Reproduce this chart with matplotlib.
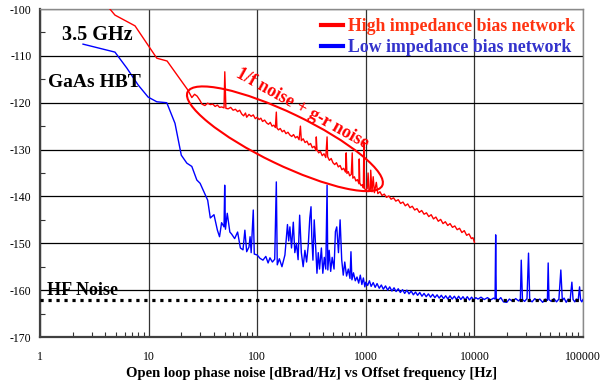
import matplotlib
matplotlib.use("Agg")
import matplotlib.pyplot as plt
import matplotlib.transforms as mtransforms
from matplotlib.patches import Ellipse
from matplotlib.lines import Line2D
from matplotlib.ticker import FixedLocator, NullFormatter

plt.rcParams["font.family"] = ["Liberation Serif", "DejaVu Serif"]
plt.rcParams["axes.unicode_minus"] = False

# high impedance bias network (red)
red_f = [4.4, 4.9, 7.5, 11.9, 14.8, 23, 25, 26.5, 28, 29.7, 31, 33, 35, 37, 39, 41, 43, 45, 47,
         49.5, 50.3, 51.5, 54, 57, 60, 63, 66, 69, 72, 75, 78, 80, 84, 88, 92, 96, 100, 104, 108,
         112, 117, 122, 127, 132, 137, 142, 147, 150, 152, 157, 163, 170, 177, 184, 192, 200, 208,
         216, 225, 234, 243, 250, 255, 265, 276, 287, 298, 310, 322, 335, 348, 350, 355, 368, 382,
         397, 412, 428, 440, 445, 462, 480, 498, 517, 537, 558, 580, 602, 625, 650, 660, 670, 690,
         710, 735, 750, 760, 785, 810, 837, 865, 870, 880, 905, 930, 950, 960, 975, 1000, 1030,
         1050, 1070, 1100, 1110, 1140, 1170, 1200, 1250, 1290, 1350, 1410, 1480, 1550, 1630, 1710,
         1800, 1890, 1990, 2090, 2200, 2310, 2430, 2550, 2680, 2820, 2960, 3110, 3270, 3440, 3620,
         3800, 4000, 4200, 4420, 4650, 4890, 5140, 5400, 5680, 5970, 6280, 6600, 6940, 7300, 7670,
         8070, 8480, 8920, 9380, 9700, 10000]
red_db = [-100.0, -101.3, -103.6, -110.5, -111.1, -117.3, -118.9, -118.2, -118.6, -119.5, -120.3,
          -120.6, -120.1, -120.4, -120.3, -120.8, -120.5, -121.0, -120.9, -121.1, -113.4, -121.2,
          -121.3, -121.0, -121.6, -121.4, -121.9, -121.6, -122.4, -122.8, -122.2, -123.1, -122.5,
          -122.9, -122.6, -123.4, -123.1, -123.6, -123.3, -124.0, -123.7, -124.3, -124.6, -124.2,
          -125.0, -124.8, -125.3, -122.0, -125.4, -125.8, -125.5, -126.2, -125.9, -126.6, -126.3,
          -126.9, -127.2, -126.8, -127.5, -127.2, -127.9, -125.0, -128.1, -127.7, -128.5, -128.2,
          -129.0, -128.7, -129.6, -129.3, -130.2, -127.3, -130.0, -130.7, -130.4, -131.3, -130.9,
          -131.7, -127.3, -131.5, -132.3, -131.9, -132.8, -133.2, -132.8, -133.7, -133.4, -134.3,
          -134.0, -134.8, -130.7, -135.1, -134.7, -135.6, -135.3, -130.7, -136.1, -135.8, -136.7,
          -136.4, -137.3, -132.0, -137.1, -137.7, -137.5, -138.2, -128.4, -138.3, -138.7, -138.3,
          -135.0, -138.9, -138.5, -134.4, -139.0, -135.8, -139.2, -137.0, -139.4, -139.0, -139.8,
          -139.5, -140.2, -139.9, -140.6, -140.3, -141.0, -140.7, -141.5, -141.2, -142.0, -141.6,
          -142.4, -142.1, -142.9, -142.6, -143.4, -143.0, -143.8, -143.5, -144.3, -143.9, -144.8,
          -144.4, -145.3, -144.9, -145.8, -145.4, -146.2, -145.8, -146.6, -146.3, -147.1, -146.8,
          -147.7, -147.3, -148.3, -148.0, -149.0, -148.8, -149.8]

# low impedance bias network (blue)
blue_f = [2.49, 4.9, 6.3, 8, 9.9, 11.9, 14.7, 17.5, 20, 22.5, 25, 27.8, 29.8, 35, 37, 40, 43, 45,
          47, 49.5, 50.2, 51, 53, 56, 58, 62, 66, 70, 74, 77, 80, 84, 86, 88, 92, 94, 100, 106, 113,
          120, 126, 131, 138, 145, 150, 153, 160, 169, 180, 190, 195, 200, 207, 215, 222, 230, 238,
          246, 255, 265, 275, 285, 295, 305, 313, 318, 326, 335, 345, 355, 365, 375, 390, 402, 415,
          428, 440, 447, 460, 475, 490, 510, 525, 540, 560, 580, 600, 620, 640, 665, 690, 715, 730,
          745, 770, 800, 830, 860, 890, 920, 950, 980, 1000, 1040, 1080, 1120, 1170, 1220, 1270,
          1330, 1390, 1450, 1520, 1590, 1660, 1740, 1820, 1900, 1990, 2080, 2180, 2280, 2390, 2500,
          2620, 2740, 2870, 3000, 3140, 3290, 3440, 3600, 3770, 3950, 4130, 4330, 4530, 4740, 4960,
          5200, 5440, 5700, 5960, 6240, 6540, 6840, 7160, 7500, 7850, 8220, 8600, 9000, 9420, 9870,
          10300, 10800, 11500, 12300, 13200, 14100, 15000, 15500, 15700, 15900, 16500, 17500,
          18500, 19900, 21000, 22500, 24000, 25500, 26500, 27000, 27700, 29000, 30500, 31500,
          32300, 34000, 36000, 38000, 40000, 42500, 45000, 47000, 47800, 48600, 51000, 54000,
          57000, 60000, 62500, 64500, 67000, 70000, 73000, 76000, 79000, 81000, 84000, 87000,
          90000, 93000, 95000, 97500, 100000]
blue_db = [-107.5, -109.2, -112.6, -116.2, -118.8, -119.8, -120.0, -124.4, -131.2, -132.9, -133.6,
           -136.5, -137.2, -140.8, -144.6, -143.9, -147.2, -148.6, -145.6, -146.5, -137.6, -147.0,
           -143.6, -147.6, -148.0, -149.0, -147.6, -151.0, -151.4, -147.2, -151.8, -150.8, -148.6,
           -152.0, -142.9, -152.3, -152.5, -153.2, -153.6, -152.8, -154.2, -153.1, -154.0, -153.4,
           -136.9, -154.6, -153.3, -155.0, -152.5, -146.0, -149.5, -146.5, -151.0, -145.5, -152.0,
           -150.0, -153.5, -144.0, -152.0, -155.0, -151.5, -154.0, -150.5, -144.6, -142.2, -148.5,
           -153.6, -145.0, -150.5, -156.4, -152.0, -155.5, -151.0, -156.4, -153.0, -155.5, -137.6,
           -155.7, -151.5, -156.0, -153.0, -155.5, -147.5, -146.5, -152.0, -145.0, -153.5, -156.8,
           -154.0, -157.0, -155.5, -157.5, -151.8, -157.8, -156.3, -158.0, -157.2, -158.5, -156.8,
           -158.8, -157.4, -159.3, -158.3, -159.0, -158.0, -159.2, -158.4, -159.4, -158.6, -159.6,
           -158.9, -159.8, -159.1, -160.0, -159.3, -160.2, -159.5, -160.3, -159.7, -160.5, -159.9,
           -160.7, -160.0, -160.8, -160.2, -161.0, -160.4, -161.1, -160.5, -161.3, -160.7, -161.4,
           -160.8, -161.5, -160.9, -161.6, -161.0, -161.7, -161.1, -161.8, -161.2, -161.9, -161.2,
           -161.9, -161.3, -162.0, -161.3, -162.0, -161.4, -162.1, -161.4, -162.1, -161.5, -162.1,
           -161.6, -161.9, -161.5, -162.0, -161.6, -162.1, -161.7, -161.9, -148.2, -161.8, -162.2,
           -161.6, -162.5, -162.6, -161.9, -162.4, -161.8, -162.3, -161.9, -153.6, -162.0, -162.4,
           -161.8, -152.1, -162.1, -162.5, -161.8, -162.3, -161.9, -162.6, -161.9, -162.2, -154.2,
           -162.0, -162.4, -161.8, -162.5, -161.9, -155.7, -162.2, -161.7, -162.6, -161.9, -162.3,
           -158.3, -162.0, -162.5, -161.9, -162.4, -159.3, -162.1, -162.5, -162.0]

hf_f = [1, 100000]
hf_db = [-162.2, -162.2]

x_ticks = [1, 10, 100, 1000, 10000, 100000]
x_labels = ["1", "10", "100", "1000", "10000", "100000"]
y_ticks = [-170, -160, -150, -140, -130, -120, -110, -100]

fig = plt.figure(figsize=(6.02, 3.84), dpi=100)
ax = fig.add_axes([40 / 602, 47 / 384, 543 / 602, 328 / 384])

ax.set_xscale("log")
ax.set_xlim(1, 100000)
ax.set_ylim(-170, -100)

ax.plot(red_f, red_db, color="#ff0000", lw=1.0, zorder=3)
ax.plot(blue_f, blue_db, color="#0000ff", lw=1.0, zorder=3)
ax.plot(hf_f, hf_db, color="black", lw=2.3, dashes=(1, 1.5), dash_capstyle="butt", zorder=4)

# ticks / grid
ax.xaxis.set_major_locator(FixedLocator(x_ticks))
ax.set_xticklabels(x_labels)
minors = [m * 10 ** d for d in range(5) for m in range(2, 10)]
ax.xaxis.set_minor_locator(FixedLocator(minors))
ax.xaxis.set_minor_formatter(NullFormatter())
ax.set_yticks(y_ticks)
ax.set_yticklabels([str(v) for v in y_ticks])
ax.yaxis.set_minor_locator(FixedLocator([-165, -155, -145, -135, -125, -115, -105]))
ax.tick_params(axis="both", which="major", length=0, labelsize=8.5)
ax.tick_params(axis="x", which="major", pad=10)
ax.tick_params(axis="y", which="major", pad=6)
ax.tick_params(axis="both", which="minor", direction="in", length=3.5, width=0.8, color="#333333")
ax.grid(True, which="major", axis="y", color="black", lw=0.9)
ax.grid(True, which="major", axis="x", color="#333333", lw=0.9)
ax.set_axisbelow(True)

for s in ("left", "bottom"):
    ax.spines[s].set_linewidth(1.6)
    ax.spines[s].set_color("#404040")
for s in ("top", "right"):
    ax.spines[s].set_linewidth(1.0)
    ax.spines[s].set_color("#8a8a8a")

ax.set_xlabel("Open loop phase noise [dBrad/Hz] vs Offset frequency [Hz]",
              fontsize=10.5, fontweight="bold", labelpad=3)

# annotations
ax.text(22 / 543, 0.905, "3.5 GHz", transform=ax.transAxes,
        fontsize=14.5, fontweight="bold", va="baseline", ha="left")
ax.text(8 / 543, 0.762, "GaAs HBT", transform=ax.transAxes,
        fontsize=14, fontweight="bold", va="baseline", ha="left")
ax.text(7 / 543, 0.128, "HF Noise", transform=ax.transAxes,
        fontsize=13, fontweight="bold", va="baseline", ha="left")

ell_tr = fig.dpi_scale_trans + mtransforms.ScaledTranslation(180, -127.7, ax.transData)
ax.add_patch(Ellipse((0, 0), 2.16, 0.52, angle=-25.7, fill=False, edgecolor="#ff0000",
                     lw=1.5, transform=ell_tr, zorder=5))
ax.text(262, -121.2, "1/f noise + g-r noise", color="#ff0000", fontsize=13, fontweight="bold",
        rotation=-29, rotation_mode="anchor", ha="center", va="center", zorder=6)

handles = [Line2D([], [], color="#ff0000", lw=3),
           Line2D([], [], color="#0000ff", lw=3)]
ax.legend(handles, ["High impedance bias network", "Low impedance bias network"],
          loc="upper right", bbox_to_anchor=(0.985, 0.972), frameon=False,
          prop={"size": 12.8, "weight": "bold"}, labelcolor=["#ff3311", "#3333cc"],
          borderpad=0, borderaxespad=0, labelspacing=0.22, handlelength=1.2,
          handletextpad=0.3)

fig.savefig("out.png", dpi=100)
